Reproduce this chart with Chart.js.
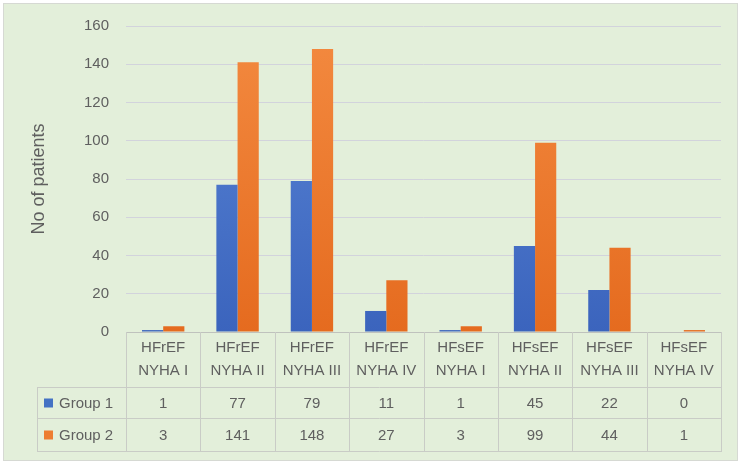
<!DOCTYPE html>
<html>
<head>
<meta charset="utf-8">
<script src="https://cdn.jsdelivr.net/npm/chart.js@4"></script>
<style>
  html, body { margin: 0; padding: 0; background: #fff; }
  #wrap { width: 742px; height: 466px; }
</style>
</head>
<body>
<div id="wrap"><canvas id="chart" width="742" height="466"></canvas></div>
<script>
// data
var categories = [
  ['HFrEF', 'NYHA I'], ['HFrEF', 'NYHA II'], ['HFrEF', 'NYHA III'], ['HFrEF', 'NYHA IV'],
  ['HFsEF', 'NYHA I'], ['HFsEF', 'NYHA II'], ['HFsEF', 'NYHA III'], ['HFsEF', 'NYHA IV']
];
var group1 = [1, 77, 79, 11, 1, 45, 22, 0];
var group2 = [3, 141, 148, 27, 3, 99, 44, 1];
var seriesNames = ['Group 1', 'Group 2'];
var yTicks = [0, 20, 40, 60, 80, 100, 120, 140, 160];

var FONT = "'Liberation Sans', Arial, sans-serif";
var TEXT = '#5f5f5f';
var LINE = '#c9ccc6';

function grad(top, bottom) {
  return function(ctx) {
    var c = ctx.chart, a = c.chartArea;
    if (!a) return top;
    var g = c.ctx.createLinearGradient(0, a.top, 0, a.bottom);
    g.addColorStop(0, top);
    g.addColorStop(1, bottom);
    return g;
  };
}

// background box
var bgPlugin = {
  id: 'bg',
  beforeDraw: function(chart) {
    var ctx = chart.ctx;
    ctx.save();
    ctx.fillStyle = '#e3efda';
    ctx.fillRect(3, 3, 735, 458);
    ctx.strokeStyle = '#d6d9d3';
    ctx.lineWidth = 1;
    ctx.strokeRect(3.5, 3.5, 734, 457);
    ctx.restore();
  }
};

// data table under the axis
var tablePlugin = {
  id: 'dataTable',
  afterDraw: function(chart) {
    var ctx = chart.ctx;
    var x = chart.scales.x;
    var area = chart.chartArea;
    var n = categories.length;
    var colW = (x.right - x.left) / n;
    var top = area.bottom;
    var rows = [387, 418, 451];
    var tableLeft = 37;
    ctx.save();
    ctx.strokeStyle = LINE;
    ctx.lineWidth = 1;
    ctx.beginPath();
    for (var i = 0; i <= n; i++) {
      var xx = Math.round(x.left + i * colW) + 0.5;
      ctx.moveTo(xx, top);
      ctx.lineTo(xx, rows[2]);
    }
    ctx.moveTo(tableLeft + 0.5, rows[0]);
    ctx.lineTo(tableLeft + 0.5, rows[2]);
    for (var r = 0; r < rows.length; r++) {
      ctx.moveTo(tableLeft, rows[r] + 0.5);
      ctx.lineTo(Math.round(x.right) + 1, rows[r] + 0.5);
    }
    ctx.stroke();

    var data = [group1, group2];
    var colors = ['#4472c4', '#ed7d31'];
    ctx.font = '15px ' + FONT;
    ctx.textBaseline = 'middle';
    for (var s = 0; s < 2; s++) {
      var cy = (rows[s] + rows[s + 1]) / 2 + 1;
      ctx.fillStyle = colors[s];
      ctx.fillRect(44, cy - 5, 9, 9);
      ctx.fillStyle = TEXT;
      ctx.textAlign = 'left';
      ctx.fillText(seriesNames[s], 59, cy);
      ctx.textAlign = 'center';
      for (var k = 0; k < n; k++) {
        ctx.fillText(String(data[s][k]), x.getPixelForValue(k), cy);
      }
    }
    ctx.restore();
  }
};

new Chart(document.getElementById('chart'), {
  type: 'bar',
  data: {
    labels: categories,
    datasets: [{
      label: seriesNames[0],
      data: group1,
      backgroundColor: grad('#5a86d6', '#3b64bd'),
      borderWidth: 0
    }, {
      label: seriesNames[1],
      data: group2,
      backgroundColor: grad('#f38a40', '#e56b1f'),
      borderWidth: 0
    }]
  },
  options: {
    responsive: false,
    animation: false,
    layout: { padding: { left: 0, right: 21, top: 20, bottom: 0 } },
    datasets: { bar: { categoryPercentage: 0.57, barPercentage: 1.0 } },
    plugins: {
      legend: { display: false },
      tooltip: { enabled: false }
    },
    scales: {
      x: {
        grid: { display: false, drawTicks: false },
        border: { display: true, color: '#bfc2bd', width: 1 },
        ticks: {
          color: TEXT,
          font: { family: FONT, size: 15, lineHeight: '23px' },
          padding: 4,
          maxRotation: 0,
          autoSkip: false
        },
        afterFit: function(scale) { scale.height = 466 - 332; }
      },
      y: {
        min: 0,
        max: 160,
        afterBuildTicks: function(scale) {
          scale.ticks = yTicks.map(function(v) { return { value: v }; });
        },
        grid: { color: '#d2d3dc', drawTicks: false },
        border: { display: false },
        ticks: {
          color: TEXT,
          font: { family: FONT, size: 15 },
          padding: 17
        },
        title: {
          display: true,
          text: 'No of patients',
          color: TEXT,
          font: { family: FONT, size: 18 },
          padding: { top: 28, bottom: 0 }
        },
        afterFit: function(scale) { scale.width = 126; }
      }
    }
  },
  plugins: [bgPlugin, tablePlugin]
});
</script>
</body>
</html>
